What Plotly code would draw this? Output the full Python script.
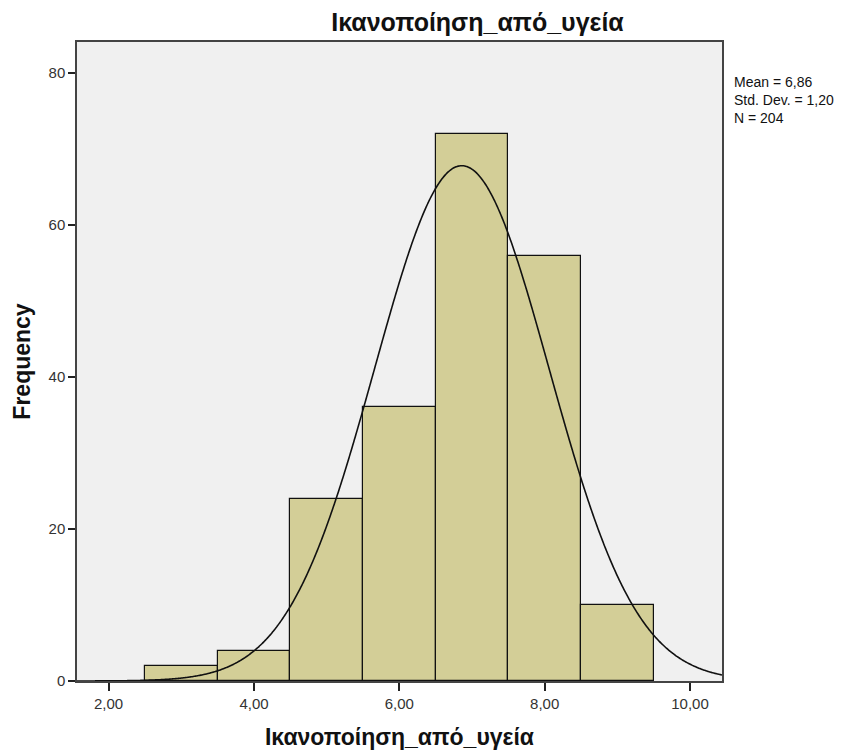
import numpy as np
import plotly.graph_objects as go

bin_centers = [3, 4, 5, 6, 7, 8, 9]
counts = [2, 4, 24, 36, 72, 56, 10]
mean_val = 6.86
std_val = 1.20
n_val = 204
x_ticks = [2, 4, 6, 8, 10]
x_tick_labels = ["2,00", "4,00", "6,00", "8,00", "10,00"]
y_ticks = [0, 20, 40, 60, 80]
title_text = "Ικανοποίηση_από_υγεία"
x_range = [1.565, 10.44]
y_range = [0, 84.1]

xs = np.linspace(x_range[0], x_range[1], 600)
ys = n_val * 1.0 * np.exp(-0.5 * ((xs - mean_val) / std_val) ** 2) / (std_val * np.sqrt(2 * np.pi))

font_family = "Liberation Sans, Arial, sans-serif"

fig = go.Figure()
fig.add_trace(go.Bar(
    x=bin_centers, y=counts, width=1,
    marker=dict(color="#D3CE97", line=dict(color="#111111", width=1.2)),
    hoverinfo="x+y", showlegend=False,
))
fig.add_trace(go.Scatter(
    x=xs, y=ys, mode="lines", line_shape="spline",
    line=dict(color="#111111", width=1.6),
    showlegend=False, hoverinfo="skip",
))

fig.update_layout(
    width=856, height=754,
    margin=dict(l=77, r=134, t=42, b=73),
    paper_bgcolor="white",
    plot_bgcolor="#F0F0F0",
    bargap=0,
    font=dict(family=font_family, size=13, color="#222222"),
    title=dict(text="<b>" + title_text + "</b>", x=(333 + 622) / 2 / 856, xref="container", y=1 - 22 / 754,
               xanchor="center", yanchor="middle",
               font=dict(size=25, color="#111111", family=font_family)),
    xaxis=dict(
        range=x_range, tickvals=x_ticks, ticktext=x_tick_labels,
        showgrid=False, zeroline=False, automargin=False,
        showline=True, mirror=True, linecolor="#444444", linewidth=1.5,
        ticks="outside", ticklen=8, tickcolor="#222222", tickwidth=1.5,
        tickfont=dict(size=15, color="#333333"),
        title=dict(text="<b>" + title_text + "</b>", font=dict(size=23, color="#111111"), standoff=18),
    ),
    yaxis=dict(
        range=y_range, tickvals=y_ticks,
        showgrid=False, zeroline=False, automargin=False,
        showline=True, mirror=True, linecolor="#444444", linewidth=1.5,
        ticks="outside", ticklen=7, tickcolor="#222222", tickwidth=1.5,
        tickfont=dict(size=15, color="#333333"),
        title=dict(text="<b>Frequency</b>", font=dict(size=23, color="#111111"), standoff=12),
    ),
    annotations=[dict(
        text="Mean = 6,86<br>Std. Dev. = 1,20<br>N = 204",
        xref="paper", yref="paper", x=1.0, y=1 - (72 - 42) / 639,
        xshift=10, xanchor="left", yanchor="top", align="left", showarrow=False,
        font=dict(size=14, color="#111111"),
    )],
)

fig.write_html("out.html")
